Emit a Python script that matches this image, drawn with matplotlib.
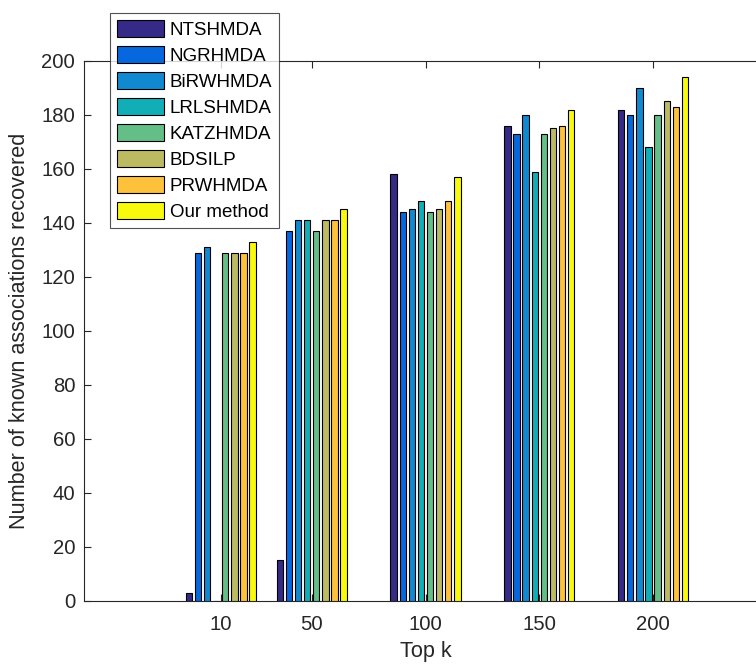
import numpy as np
import matplotlib
matplotlib.use('Agg')
import matplotlib.pyplot as plt

# ── Data ───────────────────────────────────────────────────────────────────────
top_k = [10, 50, 100, 150, 200]
methods = ['NTSHMDA', 'NGRHMDA', 'BiRWHMDA', 'LRLSHMDA',
           'KATZHMDA', 'BDSILP', 'PRWHMDA', 'Our method']
recovered = {
    'NTSHMDA':    [3, 15, 158, 176, 182],
    'NGRHMDA':    [129, 137, 144, 173, 180],
    'BiRWHMDA':   [131, 141, 145, 180, 190],
    'LRLSHMDA':   [0, 141, 148, 159, 168],
    'KATZHMDA':   [129, 137, 144, 173, 180],
    'BDSILP':     [129, 141, 145, 175, 185],
    'PRWHMDA':    [129, 141, 148, 176, 183],
    'Our method': [133, 145, 157, 182, 194],
}
colors = ['#352A87', '#0767DE', '#1189D1', '#12AEB8',
          '#64BE88', '#BDBB62', '#FDC13C', '#F8FA0D']

# ── Style ──────────────────────────────────────────────────────────────────────
plt.rcParams['font.family'] = ['Liberation Sans', 'DejaVu Sans']
txt = '#262626'

fig = plt.figure(figsize=(7.56, 6.65), dpi=100)
ax = fig.add_axes([0.1114, 0.0967, 0.9029, 0.8116])

x = np.array(top_k, dtype=float)
step = 4.0
for i, m in enumerate(methods):
    ax.bar(x + (i - 3.5) * step, recovered[m], width=2.8,
           color=colors[i], edgecolor='black', linewidth=0.8, label=m, zorder=3)

ax.set_xlim(-50, 250)
ax.set_ylim(0, 200)
ax.set_xticks(top_k)
ax.set_yticks(np.arange(0, 201, 20))
ax.tick_params(direction='in', length=5, width=0.8, colors=txt,
               labelsize=14.6, top=True, right=True)
ax.tick_params(axis='x', pad=10.5)
ax.tick_params(axis='y', pad=6.5)
for s in ax.spines.values():
    s.set_color(txt)
    s.set_linewidth(0.8)

ax.set_xlabel('Top k', fontsize=15.6, color=txt, labelpad=5)
ax.set_ylabel('Number of known associations recovered', fontsize=15.6,
              color=txt, labelpad=8)

leg = fig.legend(loc='upper left', bbox_to_anchor=(0.1455, 0.9805),
                 fontsize=13.5, frameon=True, fancybox=False,
                 handlelength=2.5, handleheight=1.05, handletextpad=0.32,
                 labelspacing=0.37, borderpad=0.36, borderaxespad=0)
leg.get_frame().set_edgecolor(txt)
leg.get_frame().set_linewidth(0.8)
for t in leg.get_texts():
    t.set_color('black')

plt.savefig('out.png', dpi=100)
